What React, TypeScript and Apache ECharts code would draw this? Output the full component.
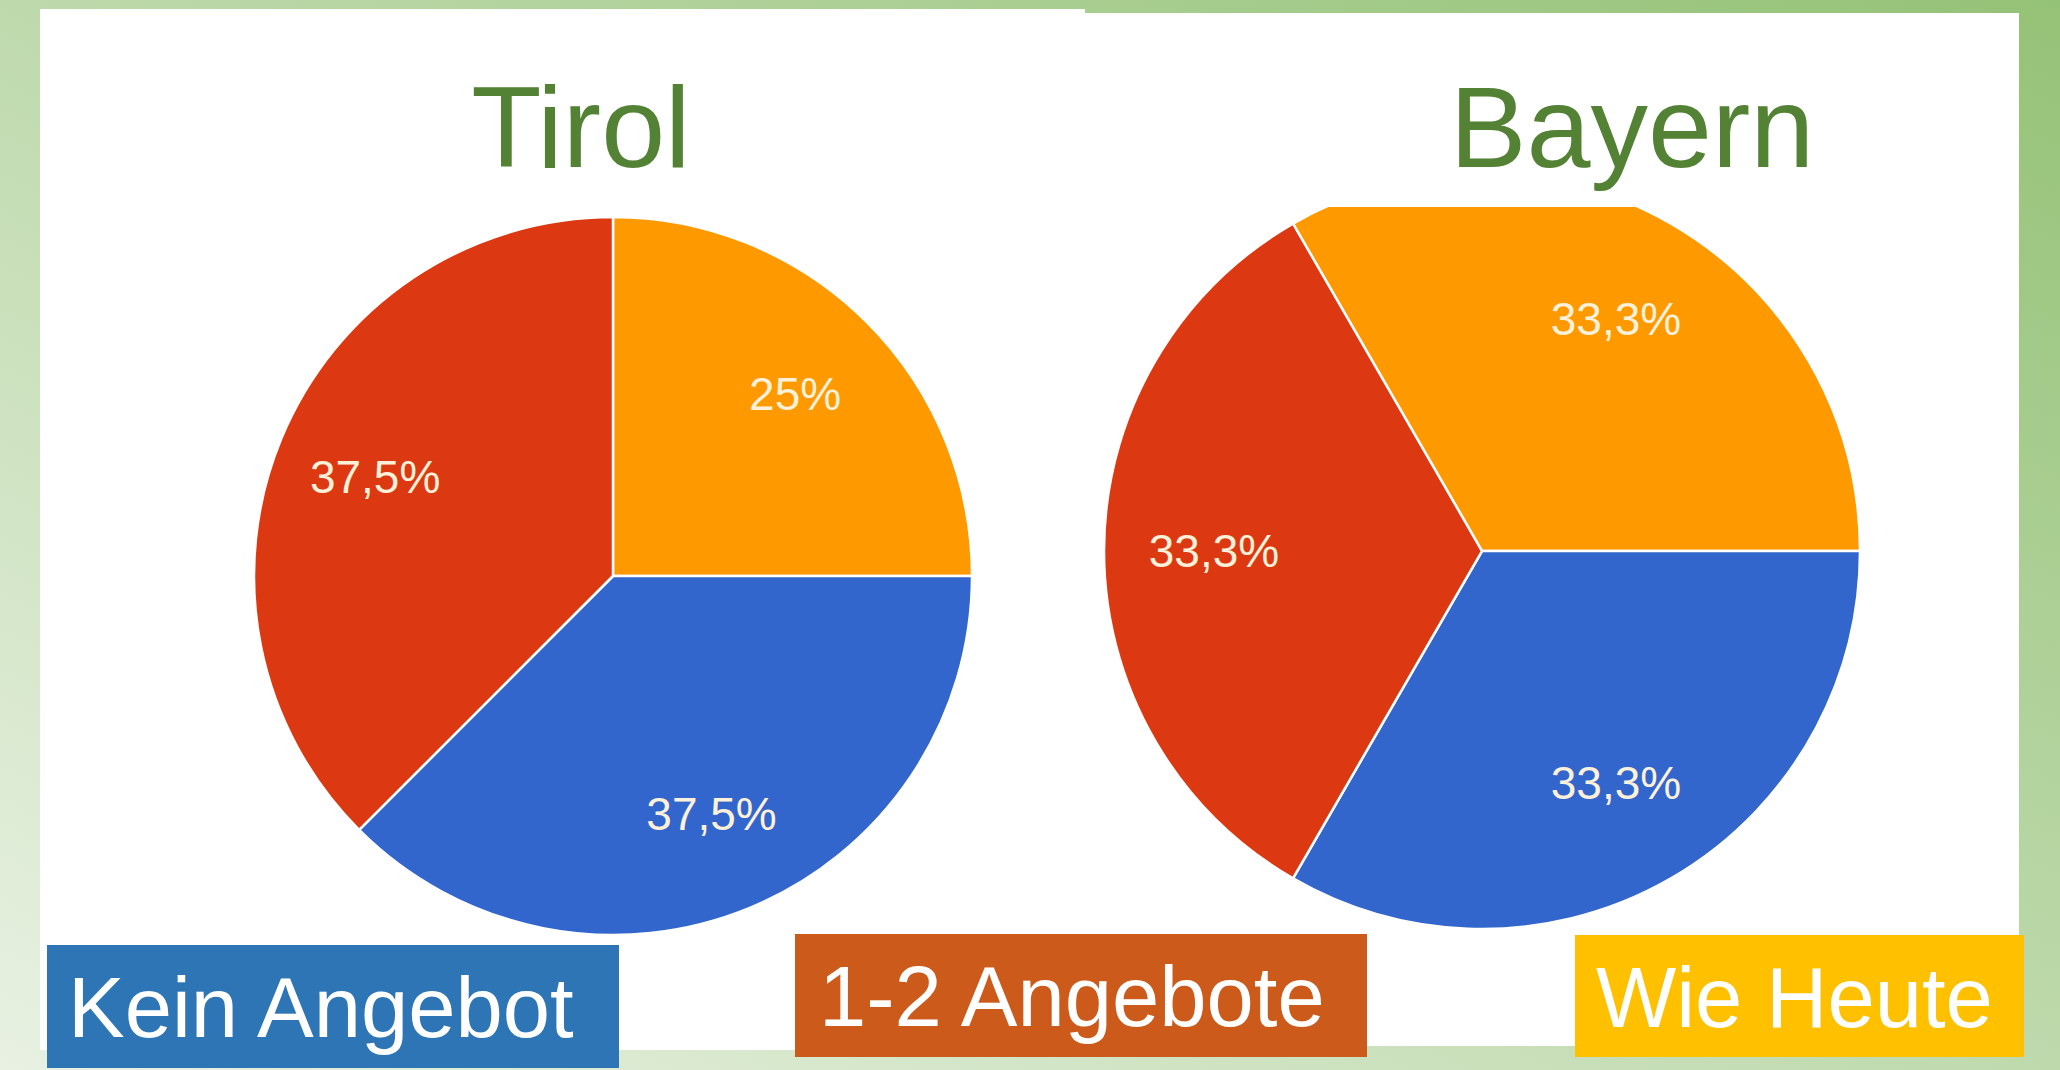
import React, { useEffect, useRef } from "react";
import * as echarts from "echarts";

// ---- data ----
const categories = ["Wie Heute", "Kein Angebot", "1-2 Angebote"];
const tirolValues = [25, 37.5, 37.5];
const bayernValues = [33.3, 33.3, 33.3];
const pieColors = ["#ff9900", "#3366cc", "#dc3912"];
const chartTitles = ["Tirol", "Bayern"];
const legendOrder = ["Kein Angebot", "1-2 Angebote", "Wie Heute"];
const legendColors = ["#2e75b6", "#cc5a1a", "#ffc000"];

const FONT = "'Liberation Sans', Arial, sans-serif";

const fmt = (p: any) => String(p.value).replace(".", ",") + "%";

function buildPie(values: number[], center: number[], r: number, inner: number, startAngle: number) {
  const data = categories.map((n, i) => ({ name: n, value: values[i], itemStyle: { color: pieColors[i] } }));
  return [
    {
      type: "pie",
      center,
      radius: [0, r],
      startAngle,
      clockwise: true,
      z: 2,
      silent: true,
      label: { show: false },
      labelLine: { show: false },
      itemStyle: { borderColor: "#ffffff", borderWidth: 2.5 },
      data,
    },
    {
      type: "pie",
      center,
      radius: [inner, r],
      startAngle,
      clockwise: true,
      z: 3,
      silent: true,
      labelLine: { show: false },
      itemStyle: { color: "rgba(0,0,0,0)", borderWidth: 0 },
      label: {
        show: true,
        position: "inside",
        formatter: fmt,
        fontSize: 46,
        fontFamily: FONT,
        color: "#fdf1da",
      },
      data: categories.map((n, i) => ({ name: n, value: values[i] })),
    },
  ];
}

export default function App() {
  const ref = useRef<HTMLDivElement>(null);
  useEffect(() => {
    if (!ref.current) return;
    const chart = echarts.init(ref.current, null, { renderer: "svg" });

    const legendBoxes = [
      { x: 47, y: 945, w: 572, h: 123, tx: 68 },
      { x: 795, y: 934, w: 572, h: 123, tx: 819 },
      { x: 1575, y: 935, w: 449, h: 122, tx: 1596 },
    ];

    const graphic: any[] = [
      {
        type: "rect",
        z: 0,
        shape: { x: 0, y: 0, width: 2060, height: 1070 },
        style: {
          fill: {
            type: "linear",
            x: 0,
            y: 1,
            x2: 1,
            y2: 0,
            colorStops: [
              { offset: 0, color: "#e8f1e2" },
              { offset: 1, color: "#94c276" },
            ],
          },
        },
      },
      { type: "rect", z: 1, shape: { x: 40, y: 9, width: 1045, height: 1041 }, style: { fill: "#ffffff" } },
      { type: "rect", z: 1, shape: { x: 1085, y: 13, width: 934, height: 1033 }, style: { fill: "#ffffff" } },
      // top crop of the Bayern pie
      { type: "rect", z: 5, shape: { x: 1090, y: 150, width: 790, height: 57 }, style: { fill: "#ffffff" } },
      {
        type: "text",
        z: 6,
        x: 581,
        y: 127,
        style: { text: chartTitles[0], fontSize: 115, fontFamily: FONT, fill: "#548235", textAlign: "center", textVerticalAlign: "middle" },
      },
      {
        type: "text",
        z: 6,
        x: 1632,
        y: 127,
        style: { text: chartTitles[1], fontSize: 115, fontFamily: FONT, fill: "#548235", textAlign: "center", textVerticalAlign: "middle" },
      },
    ];

    legendOrder.forEach((name, i) => {
      const b = legendBoxes[i];
      graphic.push({ type: "rect", z: 6, shape: { x: b.x, y: b.y, width: b.w, height: b.h }, style: { fill: legendColors[i] } });
      graphic.push({
        type: "text",
        z: 7,
        x: b.tx,
        y: b.y + b.h / 2 + 1,
        style: { text: name, fontSize: 85, fontFamily: FONT, fill: "#ffffff", textAlign: "left", textVerticalAlign: "middle" },
      });
    });

    chart.setOption({
      animation: false,
      graphic,
      series: [
        ...buildPie(tirolValues, [613, 576], 359, 150, 90),
        ...buildPie(bayernValues, [1482, 551], 378, 152, 120),
      ],
    });
    return () => chart.dispose();
  }, []);
  return <div ref={ref} style={{ position: "absolute", left: 0, top: 0, width: 2060, height: 1070 }} />;
}
